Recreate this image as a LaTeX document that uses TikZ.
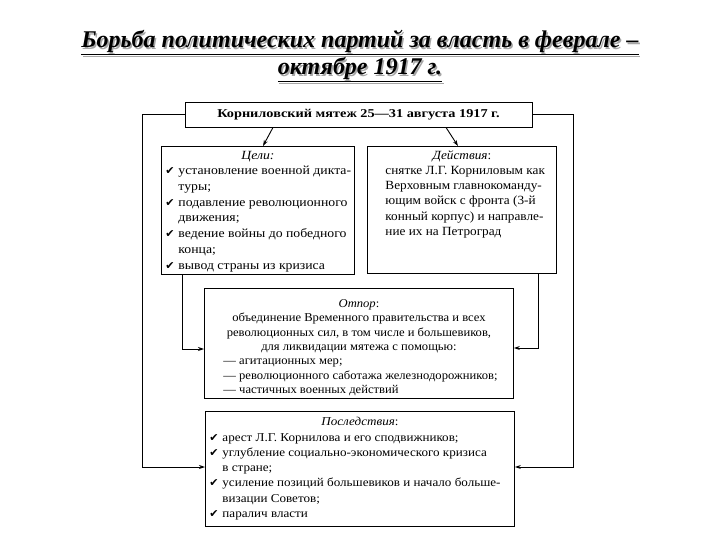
\documentclass[tikz,border=0pt]{standalone}
\usepackage{fontspec}
\setmainfont{Liberation Serif}
\newfontfamily\wideA{Liberation Serif}[FakeStretch=1.10]
\newfontfamily\wideAc{Liberation Serif}[FakeStretch=1.06]
\newfontfamily\wideB{Liberation Serif}[FakeStretch=1.05]
\newfontfamily\wideBc{Liberation Serif}[FakeStretch=1.09]
\newfontfamily\wideT{Liberation Serif}[FakeStretch=1.19]
\newfontfamily\symfont{DejaVu Sans}
\usetikzlibrary{arrows.meta}
\newcommand\cm{\makebox[13pt][l]{{\symfont\fontsize{11}{10}\selectfont ✔}}}
\newcommand\ind{\hspace*{13pt}}
\newcommand\Ln[1]{\mbox{#1}\par}
\newcommand\Lc[1]{{\centering\mbox{#1}\par}}
\newcommand\pbx[4]{\parbox[c][#2][t]{#1}{\vspace*{#3}#4}}
\newcommand\shline[1]{\leavevmode\rlap{\kern1.5pt\raisebox{-1.5pt}{\color{black!35}\underline{#1}}}\underline{#1}}
\begin{document}
\begin{tikzpicture}[x=1pt,y=-1pt,
  panel/.style={draw, line width=0.9pt, inner xsep=4pt, inner ysep=0pt, anchor=north west},
  fontA/.style={font=\wideA\fontsize{12.5}{15.7}\selectfont},
  fontAc/.style={font=\wideAc\fontsize{12.5}{15.2}\selectfont},
  fontB/.style={font=\wideB\fontsize{12}{14.4}\selectfont},
  fontBc/.style={font=\wideBc\fontsize{12}{15.3}\selectfont},
  conn/.style={line width=0.9pt, -{Stealth[length=6pt,width=4pt]}}]
\useasboundingbox (0,0) rectangle (720,540);
\node[align=center, font=\fontsize{24}{22}\selectfont\bfseries\itshape] (title) at (360,57)
  {\shline{Борьба политических партий за власть в феврале –}\\ \shline{октябре 1917 г.}};

\node[draw, line width=0.9pt, minimum width=347pt, minimum height=25pt, inner sep=0pt,
  font=\wideT\fontsize{12}{13}\selectfont\bfseries] (top) at (358.5,114.5)
  {Корниловский мятеж 25—31 августа 1917 г.};

\node[panel, fontA] (goals) at (161,146) {\pbx{185pt}{128pt}{4.5pt}{%
\Lc{\itshape Цели:}
\Ln{\cm установление военной дикта-}
\Ln{\ind туры;}
\Ln{\cm подавление революционного}
\Ln{\ind движения;}
\Ln{\cm ведение войны до победного}
\Ln{\ind конца;}
\Ln{\cm вывод страны из кризиса}}};

\node[panel, fontAc] (acts) at (367,146) {\pbx{181pt}{127pt}{4pt}{%
\Lc{{\itshape Действия}:}
\leftskip=14pt
\Ln{снятке Л.Г. Корниловым как}
\Ln{Верховным главнокоманду-}
\Ln{ющим войск с фронта (3-й}
\Ln{конный корпус) и направле-}
\Ln{ние их на Петроград}}};

\node[panel, fontB] (otpor) at (204,288) {\pbx{301pt}{110pt}{11pt}{%
\Lc{{\itshape Отпор}:}
\Lc{объединение Временного правительства и всех}
\Lc{революционных сил, в том числе и большевиков,}
\Lc{для ликвидации мятежа с помощью:}
\leftskip=15pt
\Ln{— агитационных мер;}
\Ln{— революционного саботажа железнодорожников;}
\Ln{— частичных военных действий}}};

\node[panel, fontBc] (posl) at (205,411) {\pbx{301pt}{115pt}{6pt}{%
\Lc{{\itshape Последствия}:}
\Ln{\cm арест Л.Г. Корнилова и его сподвижников;}
\Ln{\cm углубление социально-экономического кризиса}
\Ln{\ind в стране;}
\Ln{\cm усиление позиций большевиков и начало больше-}
\Ln{\ind визации Советов;}
\Ln{\cm паралич власти}}};

\coordinate (lc) at (142,467);
\coordinate (rc) at (573,467);
\coordinate (g1) at (182,349);
\coordinate (a1) at (538,348);
\coordinate (ga) at (263,146);
\coordinate (aa) at (458,146);

\draw[conn] (top.west) -| (lc) -- (lc -| posl.west);
\draw[conn] (top.east) -| (rc) -- (rc -| posl.east);
\draw[conn] (g1 |- goals.south) -- (g1) -- (g1 -| otpor.west);
\draw[conn] (a1 |- acts.south) -- (a1) -- (a1 -| otpor.east);
\draw[conn] ([xshift=-85.5pt]top.south) -- (ga);
\draw[conn] ([xshift=87.5pt]top.south) -- (aa);
\end{tikzpicture}
\end{document}
